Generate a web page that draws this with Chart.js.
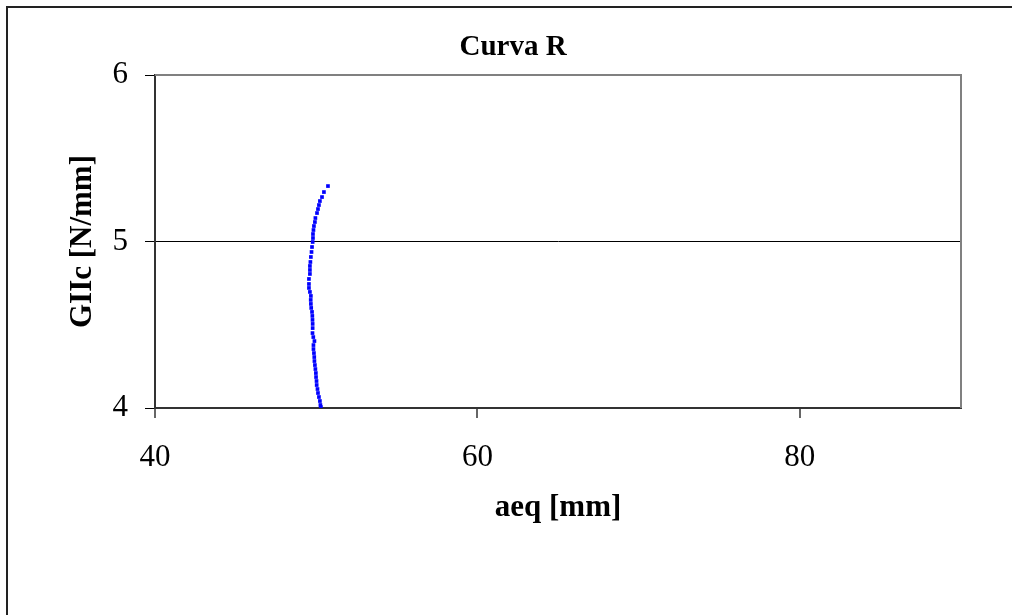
<!DOCTYPE html>
<html>
<head>
<meta charset="utf-8">
<script src="https://cdn.jsdelivr.net/npm/chart.js@4/dist/chart.umd.min.js"></script>
<style>
  body { margin: 0; background: #fff; }
</style>
</head>
<body>
<canvas id="c" width="1012" height="615"></canvas>
<script>
// R-curve points (top to bottom)
const aeq = [
  50.73, 50.48, 50.36, 50.23, 50.17, 50.11, 50.05, 49.95, 49.92, 49.86,
  49.83, 49.80, 49.80, 49.78, 49.74, 49.71, 49.67, 49.64, 49.61, 49.61,
  49.61, 49.55, 49.55, 49.55, 49.61, 49.67, 49.66, 49.67, 49.69, 49.74,
  49.76, 49.77, 49.78, 49.78, 49.77, 49.82, 49.89, 49.83, 49.83, 49.86,
  49.88, 49.89, 49.92, 49.95, 49.98, 49.99, 50.02, 50.03, 50.08, 50.11,
  50.17, 50.23, 50.26, 50.29
]
const giic = [
  5.333, 5.297, 5.267, 5.243, 5.219, 5.195, 5.171, 5.141, 5.117, 5.093,
  5.069, 5.045, 5.021, 4.997, 4.967, 4.937, 4.907, 4.877, 4.853, 4.829,
  4.805, 4.775, 4.745, 4.721, 4.697, 4.673, 4.649, 4.625, 4.601, 4.577,
  4.553, 4.529, 4.505, 4.480, 4.450, 4.426, 4.402, 4.378, 4.354, 4.330,
  4.306, 4.282, 4.258, 4.234, 4.210, 4.186, 4.162, 4.138, 4.114, 4.090,
  4.066, 4.042, 4.018, 4.006
]
const xTicks = [40, 60, 80]
const yTicks = [4, 5, 6]

const serif = "'Liberation Serif', 'Times New Roman', serif"

const frame = {
  id: "frame",
  afterDraw(chart) {
    const { ctx, chartArea: a } = chart
    ctx.save()
    // outer chart border (only left and top are inside the picture)
    ctx.strokeStyle = "#222"
    ctx.lineWidth = 2
    ctx.beginPath()
    ctx.moveTo(7, 615)
    ctx.lineTo(7, 7)
    ctx.lineTo(1012, 7)
    ctx.stroke()
    // plot area top / right edges in grey
    ctx.strokeStyle = "#808080"
    ctx.lineWidth = 2
    ctx.beginPath()
    ctx.moveTo(a.left, a.top)
    ctx.lineTo(a.right, a.top)
    ctx.lineTo(a.right, a.bottom)
    ctx.stroke()

    ctx.fillStyle = "#000"
    ctx.textAlign = "center"
    ctx.textBaseline = "middle"
    ctx.font = "bold 29px " + serif
    ctx.fillText("Curva R", 513, 48)
    ctx.font = "bold 31px " + serif
    ctx.fillText("aeq [mm]", (a.left + a.right) / 2, 508)
    ctx.translate(83, (a.top + a.bottom) / 2)
    ctx.rotate(-Math.PI / 2)
    ctx.fillText("GIIc [N/mm]", 0, 0)
    ctx.restore()
  }
}

const tickFont = { family: serif, size: 31 }

new Chart(document.getElementById("c"), {
  type: "scatter",
  data: {
    datasets: [{
      data: aeq.map((x, i) => ({ x: x, y: giic[i] })),
      backgroundColor: "#0000ff",
      borderWidth: 0,
      pointStyle: "rect",
      pointRadius: 2.6,
    }]
  },
  options: {
    responsive: false,
    animation: false,
    layout: { padding: { top: 75, right: 51, left: 0, bottom: 0 } },
    plugins: {
      legend: { display: false },
      tooltip: { enabled: false },
    },
    scales: {
      x: {
        type: "linear",
        min: 40,
        max: 90,
        afterBuildTicks: s => { s.ticks = xTicks.map(v => ({ value: v })) },
        afterFit: s => { s.height = 207 },
        ticks: { font: tickFont, color: "#000", padding: 21 },
        grid: { drawOnChartArea: false, tickLength: 10, color: "#666", lineWidth: 2 },
        border: { color: "#333", width: 2 },
      },
      y: {
        min: 4,
        max: 6,
        afterBuildTicks: s => { s.ticks = yTicks.map(v => ({ value: v })) },
        afterFit: s => { s.width = 155 },
        ticks: { font: tickFont, color: "#000", padding: 17 },
        grid: { tickLength: 10, color: "#000", lineWidth: 1 },
        border: { color: "#333", width: 2 },
      },
    },
  },
  plugins: [frame],
})
</script>
</body>
</html>
